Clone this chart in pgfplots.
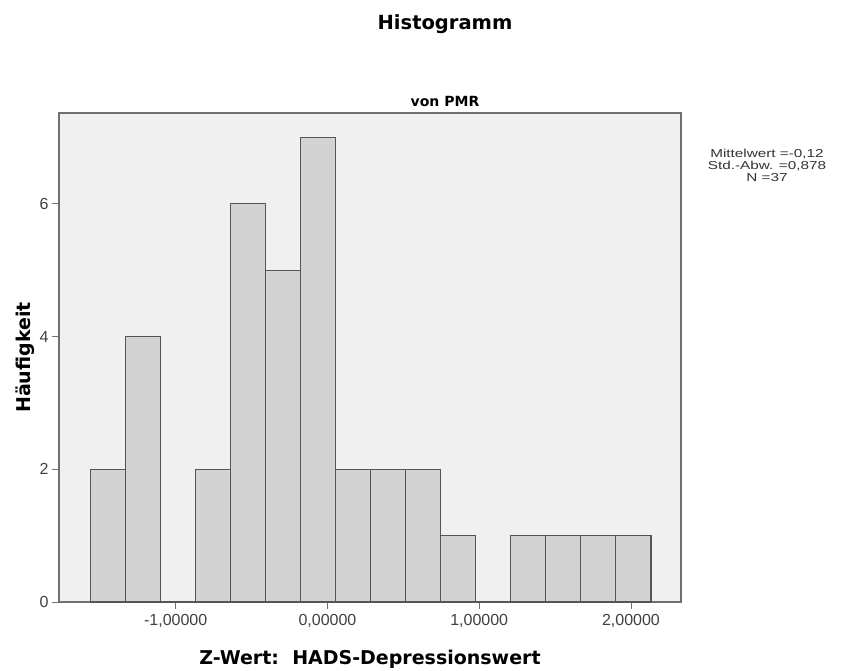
\documentclass[border=0pt]{standalone}
\usepackage{pgfplots}
\pgfplotsset{compat=1.18}
\usepackage{fontspec}
\setmainfont{Liberation Sans}
\newfontfamily\labfont{DejaVu Sans}
\newfontfamily\statfont[FakeStretch=1.33]{Liberation Sans}
\definecolor{bgc}{HTML}{F0F0F0}
\definecolor{barc}{HTML}{D3D3D3}
\definecolor{edgec}{HTML}{555555}
\definecolor{framec}{HTML}{707070}
\begin{document}
\begin{tikzpicture}[x=1pt,y=1pt]
\path[use as bounding box] (0,0) rectangle (856,671);
\begin{axis}[
  at={(59pt,69pt)}, anchor=south west,
  scale only axis, width=622pt, height=489pt,
  xmin=-1.769, xmax=2.330, ymin=0, ymax=7.37,
  axis background/.style={fill=bgc},
  axis line style={framec, line width=1.6pt},
  xtick={-1,0,1,2},
  xticklabels={{-1,00000},{0,00000},{1,00000},{2,00000}},
  ytick={0,2,4,6},
  tick align=outside,
  tick style={framec, line width=0.8pt},
  major tick length=7pt,
  tick label style={font=\fontsize{16}{18}\selectfont, text=black!75},
  /pgf/number format/assume math mode=true,
  xtick pos=bottom, ytick pos=left,
  xticklabel style={yshift=-2pt},
  xlabel={\labfont\bfseries Z-Wert:\ \ HADS-Depressionswert},
  xlabel style={font=\fontsize{19}{22}\selectfont, at={(axis description cs:0.5,0)}, anchor=base, yshift=-63pt},
  ylabel={\labfont\bfseries Häufigkeit},
  ylabel style={font=\fontsize{19}{22}\selectfont, at={(axis description cs:0,0.5)}, anchor=base, yshift=29pt},
  clip=false,
]
\addplot[ybar interval, fill=barc, draw=edgec, line width=1.1pt] coordinates {
(-1.564,2) (-1.333,4) (-1.102,0) (-0.871,2) (-0.640,6) (-0.409,5) (-0.178,7)
(0.053,2) (0.284,2) (0.515,2) (0.746,1) (0.977,0) (1.208,1) (1.439,1)
(1.670,1) (1.901,1) (2.132,1)};
\end{axis}
\node[font=\labfont\bfseries\fontsize{19.5}{22}\selectfont, anchor=base] at (445,641) {Histogramm};
\node[font=\labfont\bfseries\fontsize{14}{16}\selectfont, anchor=base] at (445,564) {von PMR};
\begin{scope}[every node/.style={font=\statfont\fontsize{11.5}{12.5}\selectfont, text=black!80, anchor=base}]
\node at (767,513) {Mittelwert =-0,12};
\node at (767,501) {Std.-Abw. =0,878};
\node at (767,489) {N =37};
\end{scope}
\end{tikzpicture}
\end{document}
